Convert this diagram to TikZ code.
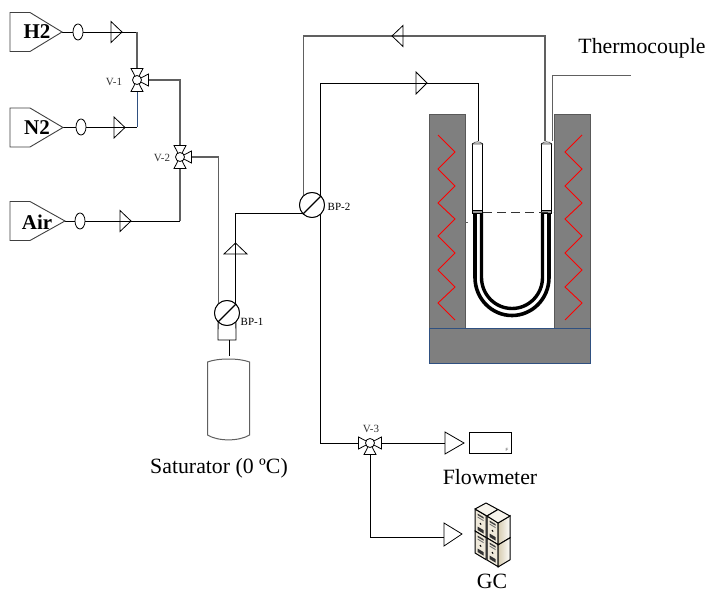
\documentclass[tikz,border=0pt]{standalone}
\usepackage{fontspec}
\setmainfont{Liberation Serif}
\newfontfamily\labelsans{Liberation Sans}
\definecolor{blockgray}{HTML}{7F7F7F}
\definecolor{linegray}{HTML}{606060}
\definecolor{basebord}{HTML}{2F5080}
\definecolor{cream}{HTML}{EFE9DA}
\definecolor{creamdark}{HTML}{D6CCB0}
\newcommand{\flowtri}[5]{% x y rot len halfheight
  \begin{scope}[shift={(#1,#2)},rotate=#3]
    \draw[thinline,line join=miter] (0,-#5) -- (0,#5) -- (#4,0) -- cycle;
  \end{scope}}
\newcommand{\threeway}[4]{% centre name, three directions
  \foreach \ang in {#2,#3,#4}{
    \begin{scope}[shift={(#1)},rotate=\ang]
      \draw[thinline,fill=white] (0,0) -- (11.5,-6) -- (11.5,6) -- cycle;
    \end{scope}}
  \draw[thinline,fill=white] (#1) circle[radius=4.5];}
\newcommand{\sourcebox}[3]{% y-centre, tip x, name
  \draw[black!75,line width=.9pt] (10,#1-19.5) -- (30,#1-19.5) -- (#2,#1) -- (30,#1+19.5) -- (10,#1+19.5) -- cycle;}
\newcommand{\gcface}[2]{% x y of a front face
  \begin{scope}[shift={(#1,#2)},yslant=-0.6]
    \fill[cream] (0,0) rectangle (11,22);
    \draw[line width=1pt] (0,0) rectangle (11,22);
    \fill[black!75] (2.5,3) rectangle (8.5,4.6);
    \fill[black!55] (2.5,6) rectangle (8.5,7);
    \fill[black] (5.5,11.5) circle[radius=1];
    \fill[black!80] (2.5,16) rectangle (8.5,19.5);
  \end{scope}}
\newcommand{\gcside}[2]{% x y of a right face
  \begin{scope}[shift={(#1,#2)},yslant=0.6]
    \shade[left color=creamdark,right color=white!90!cream] (0,0) rectangle (12,22);
    \draw[line width=1pt] (0,0) rectangle (12,22);
  \end{scope}}
\tikzset{
  thinline/.style={black,line width=.8pt},
  pipe/.style={black,line width=.8pt},
  greypipe/.style={linegray,line width=1.2pt},
  boldtext/.style={font=\fontsize{21}{23}\selectfont\bfseries,inner sep=0pt},
  bigtext/.style={font=\fontsize{21.8}{24}\selectfont,inner sep=0pt},
  smalltext/.style={font=\fontsize{11}{12}\selectfont,inner sep=0pt,text=black!80},
  bpvalve/.style={circle,draw=black,line width=.9pt,fill=white,minimum size=25pt,inner sep=0pt,outer sep=0pt},
  block/.style={fill=blockgray,draw=black!65,line width=.8pt},
  heater/.style={red,line width=.9pt,line join=miter}
}
\begin{document}
\begin{tikzpicture}[x=1pt,y=-1pt]
\useasboundingbox (0,0) rectangle (709,593);
\fill[white] (0,0) rectangle (709,593);

% named points
\coordinate (h2tip) at (62,32);
\coordinate (n2tip) at (63,127);
\coordinate (airtip) at (65,221);
\coordinate (v1) at (137,80);
\coordinate (v2) at (180,157);
\coordinate (v3) at (370,443);
\coordinate (v1top) at (137,69);
\coordinate (v1bot) at (137,91);
\coordinate (v1right) at (148,80);
\coordinate (v2top) at (180,146);
\coordinate (v2bot) at (180,168);
\coordinate (v2right) at (191,157);
\coordinate (v3left) at (359,443);
\coordinate (v3right) at (381,443);
\coordinate (v3bot) at (370,454);
\coordinate (h2turn) at (137,32);
\coordinate (n2turn) at (137,127);
\coordinate (airturn) at (180,221);
\coordinate (tubeL) at (478,141);
\coordinate (tubeR) at (545,141);
\coordinate (toptubeL) at (478,83);
\coordinate (toptubeR) at (545,36);
\coordinate (fmin) at (445,443);
\coordinate (gcin) at (444,537);
\coordinate (tcend) at (631,75);
\coordinate (tcfoot) at (552,141);
\coordinate (tanktop) at (229,356);
\node[bpvalve] (bp1) at (227,313) {};
\node[bpvalve] (bp2) at (312,205) {};
\coordinate (boxR) at (236,340);
\coordinate (boxL) at (218,340);
\coordinate (boxM) at (229,340);

% furnace
\draw[block] (429,114) rectangle (465,328);
\draw[block] (554,114) rectangle (590,328);
\draw[fill=blockgray,draw=basebord,line width=.9pt] (429,328) rectangle (590,363);
\draw[heater] (438,135)--(455,152)--(438,169)--(455,186)--(438,203)--(455,219)--(438,236)--(455,253)--(438,270)--(455,287)--(438,303)--(455,320);
\draw[heater] (582,135)--(565,152)--(582,169)--(565,186)--(582,203)--(565,219)--(582,236)--(565,253)--(582,270)--(565,287)--(582,303)--(565,320);
\draw[linegray,line width=.8pt] (465,222) -- (468,222);

% U-tube
\draw[black,line width=3.6pt] (475,212) -- (475,277.5) arc[x radius=37,y radius=38,start angle=180,end angle=0] -- (549,212);
\draw[black,line width=3.4pt] (481.5,212) -- (481.5,277.5) arc[x radius=30.5,y radius=31,start angle=180,end angle=0] -- (542.5,212);
\draw[thinline,fill=white] (472.5,212) -- (472.5,143) -- (482.5,143) -- (482.5,212) -- cycle;
\draw[thinline,fill=white] (541.5,212) -- (541.5,143) -- (551.5,143) -- (551.5,212) -- cycle;
\draw[black!70,fill=black!15,line width=.6pt] (472.5,144) .. controls (474,141) and (481,141) .. (482.5,144) -- cycle;
\draw[black!70,fill=black!15,line width=.6pt] (541.5,144) .. controls (543,141) and (550,141) .. (551.5,144) -- cycle;
\draw[black,fill=black!40,line width=.6pt] (472.5,210.5) rectangle (482.5,213.5);
\draw[black,fill=black!40,line width=.6pt] (541.5,210.5) rectangle (551.5,213.5);
\draw[black!80,line width=.8pt,dash pattern=on 9pt off 5pt] (483,212) -- (553,212);

% connectors
\draw[pipe] (h2tip) -- (h2turn);
\draw[greypipe] (h2turn) -- (v1top);
\draw[pipe] (n2tip) -- (n2turn);
\draw[basebord,line width=1pt] (n2turn) -- (v1bot);
\draw[pipe] (airtip) -- (airturn);
\draw[greypipe] (airturn) -- (v2bot);
\draw[greypipe] (v1right) -| (v2top);
\draw[greypipe] (v2right) -| (bp1.135);
\draw[pipe] (bp1.45) |- (bp2.225);
\draw[pipe] (bp2.315) |- (v3left);
\draw[pipe] (bp2.45) |- (toptubeL) -- (tubeL);
\draw[greypipe] (bp2.135) |- (toptubeR) -- (tubeR);
\draw[pipe] (v3right) -- (fmin);
\draw[pipe] (v3bot) |- (gcin);
\draw[linegray,line width=.9pt] (tcfoot) |- (tcend);
\draw[pipe] (bp1.225) -- (boxL) -- (boxR) -- (bp1.315);
\draw[pipe,line width=1pt] (boxM) -- (tanktop);

% BP valves
\node[bpvalve] at (bp1) {};
\node[bpvalve] at (bp2) {};
\draw[black,line width=1.4pt] (bp1.225) -- (bp1.45);
\draw[black,line width=1.4pt] (bp2.225) -- (bp2.45);

% sources
\sourcebox{32}{62}{h2}
\sourcebox{127.5}{63}{n2}
\sourcebox{221}{65}{air}
\node[boldtext] (h2) at (37,32) {H2};
\node[boldtext] (n2) at (37,127.5) {N2};
\node[boldtext] (air) at (37,222) {Air};
\draw[thinline,fill=white] (78,32) ellipse[x radius=5,y radius=8];
\draw[thinline,fill=white] (81,127) ellipse[x radius=5,y radius=8];
\draw[thinline,fill=white] (80,221) ellipse[x radius=5,y radius=8];

% flow triangles
\flowtri{111}{32}{0}{11}{10.5}
\flowtri{114}{127.5}{0}{11}{10.5}
\flowtri{120}{221}{0}{11}{10.5}
\flowtri{403}{36}{180}{11}{10.5}
\flowtri{416}{83}{0}{11}{11}
\flowtri{235.5}{254}{90}{11}{11.5}
\draw[thinline,fill=white] (445,432) -- (445,454) -- (464,443) -- cycle;
\draw[thinline,fill=white] (444,523) -- (444,546) -- (462,534) -- cycle;

% three-way valves
\threeway{v1}{90}{270}{0}
\threeway{v2}{90}{270}{0}
\threeway{v3}{180}{0}{270}

% tank
\draw[linegray,line width=1pt] (207.5,362) .. controls (218,358) and (239,358) .. (249.5,362) -- (249.5,435) .. controls (239,441.5) and (218,441.5) .. (207.5,435) -- cycle;

% flowmeter
\draw[thinline] (469,432) rectangle (511,453);
\node[font=\labelsans\fontsize{4.5}{5}\selectfont,inner sep=0pt,text=black!70] (ftag) at (507,449.5) {F};

% GC
\gcface{475}{509}
\gcface{475}{531}
\gcface{487}{516}
\gcface{487}{538}
\gcside{498}{523}
\gcside{498}{545}
\draw[line width=1pt,fill=white!50!cream,line join=round] (475,509) -- (486,503) -- (498,509.5) -- (487,516) -- cycle;
\draw[line width=1pt,fill=white!50!cream,line join=round] (487,516) -- (498,509.5) -- (510,516) -- (498,523) -- cycle;

% labels
\node[smalltext] (lv1) at (114,82) {V-1};
\node[smalltext] (lv2) at (162,158) {V-2};
\node[smalltext] (lv3) at (371,429) {V-3};
\node[smalltext,text=black] (lbp1) at (252,322) {BP-1};
\node[smalltext,text=black] (lbp2) at (339,207) {BP-2};
\node[bigtext] (lsat) at (219,468) {Saturator (0 ºC)};
\node[bigtext] (lfm) at (490,477) {Flowmeter};
\node[bigtext] (lgc) at (492,581) {GC};
\node[bigtext] (ltc) at (642,48) {Thermocouple};
\end{tikzpicture}
\end{document}
